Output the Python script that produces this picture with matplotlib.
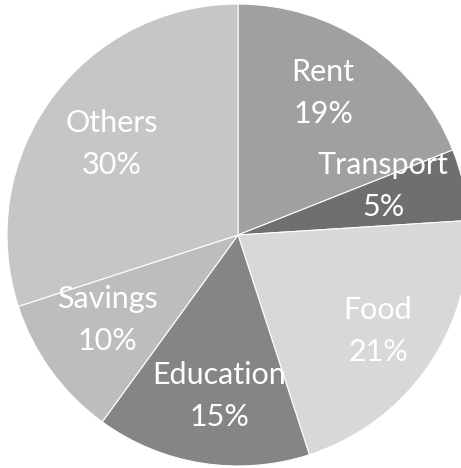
import matplotlib
matplotlib.use("Agg")
import matplotlib.pyplot as plt

categories = ["Rent", "Transport", "Food", "Education", "Savings", "Others"]
values = [19, 5, 21, 15, 10, 30]
colors = ["#a0a0a0", "#6f6f6f", "#d8d8d8", "#858585", "#bdbdbd", "#c6c6c6"]

W, H = 461, 468
fig = plt.figure(figsize=(W / 100, H / 100), dpi=100)
ax = fig.add_axes([0, 0, 1, 1])
ax.set_xlim(0, W)
ax.set_ylim(0, H)
ax.set_aspect("equal")
ax.axis("off")

cx, cy, R = 238, 233, 231
ax.pie(values, colors=colors, startangle=90, counterclock=False,
       center=(cx, cy), radius=R,
       wedgeprops=dict(edgecolor="white", linewidth=0.8), frame=True)
ax.set_xlim(0, W)
ax.set_ylim(0, H)
ax.axis("off")

# label offsets (pixels) from pie centre
offsets = [(85, 142), (145, 49), (140, -96), (-19, -161), (-131, -85), (-126, 91)]
for cat, v, (dx, dy) in zip(categories, values, offsets):
    ax.text(cx + dx, cy + dy, f"{cat}\n{v}%", ha="center", va="center",
            color="white", fontsize=22, family=["Lato", "DejaVu Sans"],
            linespacing=1.65)

fig.savefig("out.png", dpi=100)
